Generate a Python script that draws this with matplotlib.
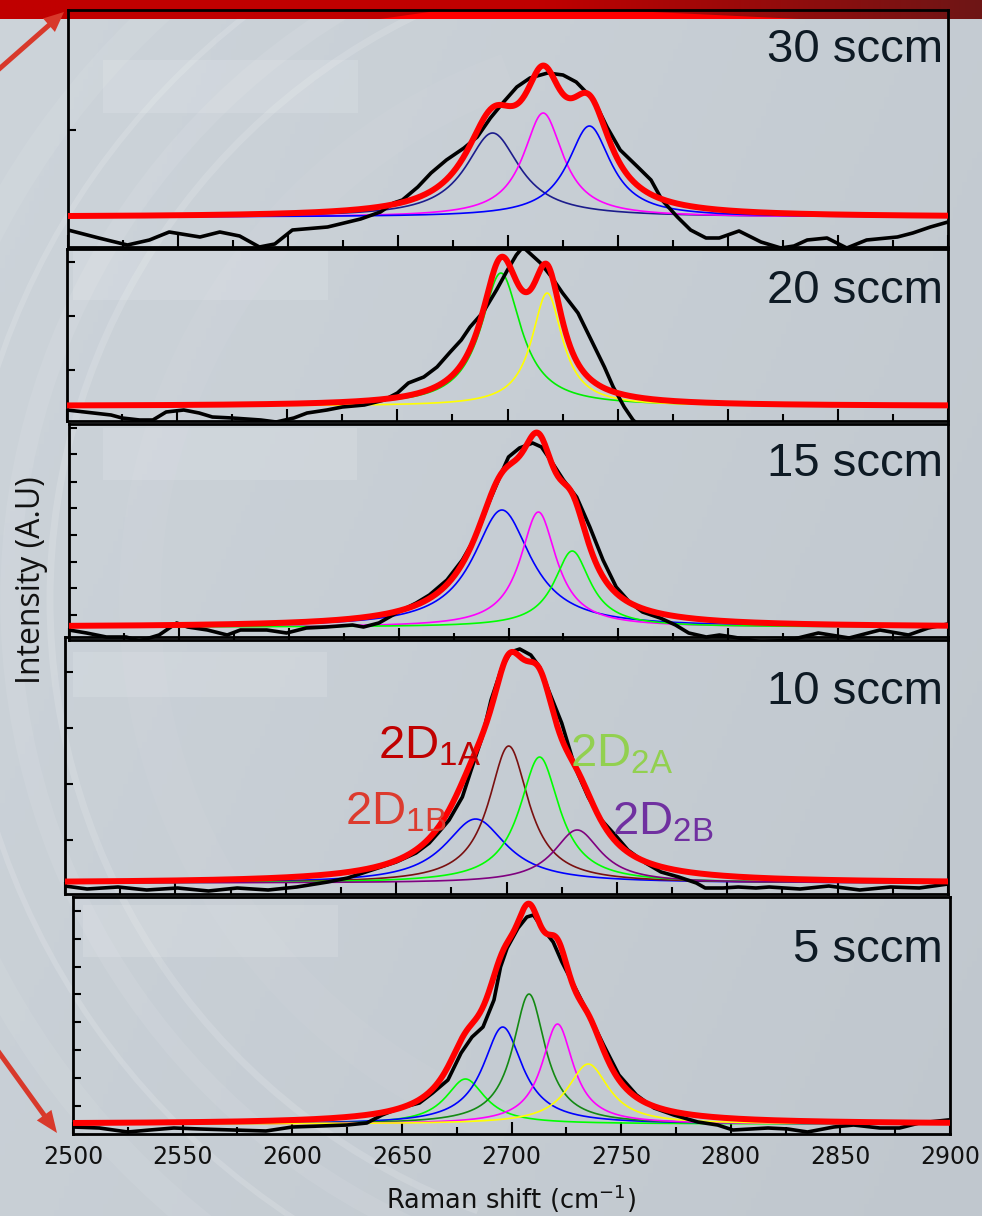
import numpy as np
import matplotlib
matplotlib.use('agg')
import matplotlib.pyplot as plt
from matplotlib.patches import Arc, Rectangle, Polygon, FancyArrow
from matplotlib.ticker import MultipleLocator

plt.rcParams['mathtext.rm'] = 'Liberation Sans'
plt.rcParams['mathtext.it'] = 'Liberation Sans:italic'
plt.rcParams['mathtext.bf'] = 'Liberation Sans:bold'

# Raman 2D band of graphene grown at different gas flows
# x = Raman shift (cm^-1), y = intensity (A.U.)
flows = ['30 sccm', '20 sccm', '15 sccm', '10 sccm', '5 sccm']

# measured spectra (black)
x30 = [2500, 2514, 2527, 2537, 2546, 2560, 2569, 2578, 2587, 2594, 2602, 2618, 2633, 2642, 2648, 2652, 2659,
       2665, 2672, 2680, 2686, 2692, 2698, 2704, 2710, 2718, 2725, 2731, 2739, 2745, 2751, 2759, 2765, 2770,
       2777, 2783, 2790, 2796, 2805, 2815, 2824, 2830, 2836, 2845, 2854, 2863, 2877, 2884, 2892, 2900]
y30 = [17, 9, 2, 7, 15, 10, 15, 11, 0, 3, 17, 20, 28, 35, 44, 47, 60, 74, 87, 99, 110, 129, 145, 160, 169,
       174, 172, 165, 147, 120, 97, 80, 67, 47, 30, 17, 9, 9, 16, 5, -1, 1, 7, 9, -1, 7, 10, 14, 20, 25]

x20 = [2500, 2512, 2520, 2525, 2533, 2539, 2545, 2553, 2560, 2566, 2575, 2588, 2595, 2603, 2609, 2618, 2625,
       2635, 2644, 2650, 2655, 2662, 2668, 2674, 2679, 2683, 2689, 2695, 2700, 2704, 2707, 2710, 2715, 2720,
       2725, 2732, 2738, 2744, 2748, 2753, 2757, 2763]
y20 = [11, 8, 6, 3, 1, 1, 9, 11, 8, 4, 3, 1, -1, 3, 8, 11, 14, 16, 21, 28, 38, 44, 54, 69, 81, 94, 109, 131,
       151, 166, 174, 168, 158, 144, 128, 108, 81, 54, 34, 14, 1, -11]

x15 = [2500, 2508, 2517, 2526, 2532, 2541, 2549, 2554, 2563, 2572, 2578, 2590, 2599, 2608, 2617, 2629, 2634,
       2641, 2649, 2658, 2664, 2672, 2679, 2685, 2691, 2696, 2700, 2705, 2711, 2715, 2720, 2725, 2731, 2737,
       2743, 2749, 2755, 2761, 2769, 2776, 2782, 2790, 2796, 2802, 2810, 2815, 2828, 2841, 2855, 2869, 2882,
       2891, 2900]
y15 = [10, 7, 3, 3, -1, 5, 17, 13, 10, 5, 10, 10, 7, 12, 13, 15, 13, 17, 27, 37, 45, 60, 80, 103, 137, 163,
       183, 192, 197, 193, 177, 160, 143, 113, 80, 53, 38, 28, 22, 15, 7, 3, 5, 3, 0, -2, 0, 7, 2, 10, 5, 12, 16]

x10 = [2500, 2510, 2524, 2537, 2551, 2565, 2578, 2592, 2605, 2619, 2628, 2639, 2650, 2659, 2665, 2669, 2674,
       2680, 2684, 2689, 2693, 2698, 2702, 2706, 2711, 2715, 2719, 2725, 2731, 2737, 2743, 2750, 2755, 2763,
       2770, 2778, 2786, 2790, 2798, 2805, 2813, 2819, 2833, 2846, 2860, 2874, 2887, 2900]
y10 = [8, 5, 7, 4, 6, 3, 6, 4, 7, 12, 16, 24, 32, 41, 51, 61, 74, 97, 124, 157, 194, 227, 242, 245, 239, 227,
       204, 171, 127, 97, 74, 57, 44, 31, 22, 17, 11, 6, 6, 7, 6, 7, 5, 8, 4, 7, 6, 10]

x5 = [2500, 2512, 2525, 2535, 2546, 2558, 2573, 2588, 2600, 2613, 2625, 2634, 2641, 2649, 2658, 2664, 2671,
      2677, 2682, 2687, 2692, 2695, 2698, 2703, 2707, 2710, 2714, 2719, 2723, 2730, 2736, 2742, 2749, 2757,
      2765, 2774, 2785, 2794, 2801, 2817, 2826, 2835, 2847, 2856, 2868, 2877, 2886, 2899]
y5 = [7, 6, 2, 4, 6, 5, 4, 3, 7, 8, 9, 11, 19, 26, 31, 41, 54, 81, 97, 107, 134, 167, 186, 206, 217, 219, 206,
      192, 172, 142, 116, 89, 59, 39, 26, 19, 12, 9, 4, 6, 5, 2, 7, 9, 6, 6, 11, 14]

# Lorentzian fit components: (centre, FWHM, height), plus constant baseline
peaks30 = [(2693, 30, 84), (2716, 22, 104), (2737, 24, 91)]
peaks20 = [(2697, 22, 133), (2718, 17, 113)]
peaks15 = [(2697, 32, 117), (2713.6, 20, 115), (2729, 20, 76)]
peaks10 = [(2686, 34, 64), (2701, 22, 137), (2715, 22, 126), (2732, 26, 53)]
peaks5 = [(2679, 22, 45), (2696, 22, 97), (2708, 18, 130), (2721, 17.5, 100), (2735, 23, 60)]
baselines = [30, 15, 13, 11, 10]

colors30 = ['#1c1c8c', '#ff00ff', '#0000ff']
colors20 = ['#00ee00', '#ffff00']
colors15 = ['#0000ff', '#ff00ff', '#00ff00']
colors10 = ['#0000ff', '#7a1010', '#00ff00', '#800080']
colors5 = ['#00ff00', '#0000ff', '#138a13', '#ff00ff', '#ffff00']

ticks30 = [117]
ticks20 = [51, 105, 159]
ticks15 = [25, 52, 78, 105, 132, 158, 186, 212]
ticks10 = [54, 110, 166, 222]
ticks5 = [28, 56, 84, 112, 140, 167, 195, 223]

W, H = 982, 1216


def lorentz(x, c, fwhm, a):
    return a / (1 + ((x - c) / (fwhm / 2.0)) ** 2)


fig = plt.figure(figsize=(W / 100, H / 100), dpi=100)

# ---- slide background ----
bg = fig.add_axes([0, 0, 1, 1], zorder=-5)
bg.set_xlim(0, W)
bg.set_ylim(H, 0)
bg.axis('off')
gx, gy = np.meshgrid(np.linspace(0, 1, 200), np.linspace(0, 1, 200))
t = (0.65 * gx + 0.35 * gy)[..., None]
c0 = np.array([205, 212, 218]) / 255.0
c1 = np.array([192, 199, 206]) / 255.0
bg.imshow(c0 * (1 - t) + c1 * t, extent=[0, W, H, 0], aspect='auto', zorder=0)
for r, lw, al in [(560, 30, 0.04), (650, 5, 0.14), (690, 14, 0.08), (740, 4, 0.15), (800, 20, 0.07)]:
    bg.add_patch(Arc((700, 600), 2 * r, 2 * r, theta1=110, theta2=250, color='white', lw=lw, alpha=al, zorder=1))
for (l, tp, r, b) in [(103, 60, 358, 113), (73, 250, 328, 300), (103, 428, 357, 480), (73, 652, 327, 697),
                      (83, 905, 338, 957)]:
    bg.add_patch(Rectangle((l, tp), r - l, b - tp, color='white', alpha=0.13, lw=0, zorder=2))

# red title bar
bx = np.linspace(0, 1, 400)
bt = np.clip((bx - 0.55) / 0.45, 0, 1)[None, :, None]
bar = np.array([192, 0, 0]) / 255.0 * (1 - bt) + np.array([110, 22, 22]) / 255.0 * bt
bg.imshow(bar, extent=[0, W, 19, 0], aspect='auto', zorder=3)
bg.add_patch(Polygon([(380, 19), (450, 9), (590, 9), (800, 19)], color='#ff0000', lw=0, zorder=4))

# arrows
bg.add_patch(FancyArrow(-10, 77, 74, -65, width=5, head_width=18, head_length=20,
                        length_includes_head=True, color='#d8392b', lw=0, zorder=5))
bg.add_patch(FancyArrow(-10, 1040, 67, 93, width=5, head_width=18, head_length=22,
                        length_includes_head=True, color='#d8392b', lw=0, zorder=5))

# ---- spectra panels ----
boxes = [(68, 10, 948, 247), (67, 249, 948, 421), (69, 424, 948, 640), (65, 637, 948, 894), (73, 897, 950, 1134)]
xs = [x30, x20, x15, x10, x5]
ys = [y30, y20, y15, y10, y5]
peaks = [peaks30, peaks20, peaks15, peaks10, peaks5]
cols = [colors30, colors20, colors15, colors10, colors5]
yt = [ticks30, ticks20, ticks15, ticks10, ticks5]
label_base = [62, 303, 476, 704, 962]

grid = np.linspace(2500, 2900, 801)
for i, (l, tp, r, b) in enumerate(boxes):
    ax = fig.add_axes([l / W, 1 - b / H, (r - l) / W, (b - tp) / H])
    ax.set_facecolor('none')
    base = baselines[i]
    total = np.full_like(grid, base, dtype=float)
    for (c, w, a), col in zip(peaks[i], cols[i]):
        comp = lorentz(grid, c, w, a)
        total += comp
        ax.plot(grid, comp + base, color=col, lw=1.2, zorder=2)
    ax.plot(xs[i], ys[i], color='black', lw=2.6, zorder=3)
    ax.plot(grid, total, color='#ff0000', lw=4.3, zorder=4, solid_capstyle='round')
    ax.set_xlim(2500, 2900)
    ax.set_ylim(0, b - tp)
    ax.xaxis.set_major_locator(MultipleLocator(50))
    ax.xaxis.set_minor_locator(MultipleLocator(25))
    ax.set_yticks(yt[i])
    ax.tick_params(axis='x', which='major', direction='in', length=8.5, width=1.5,
                   labelbottom=(i == 4), labelsize=17, pad=8, labelcolor='#111111')
    ax.tick_params(axis='x', which='minor', direction='in', length=5, width=1.5)
    ax.tick_params(axis='y', direction='in', length=5.5, width=1.5, labelleft=False)
    for sp in ax.spines.values():
        sp.set_linewidth(2)
    fig.text(943 / W, 1 - label_base[i] / H, flows[i], ha='right', va='baseline',
             fontsize=34, family='Liberation Sans', color='#0e1a24')

# peak labels on the 10 sccm panel
for txt, x, y, col in [(r'$\mathrm{2D_{1A}}$', 378, 758, '#c00000'),
                       (r'$\mathrm{2D_{1B}}$', 345, 825, '#dc3b2e'),
                       (r'$\mathrm{2D_{2A}}$', 570, 767, '#92d050'),
                       (r'$\mathrm{2D_{2B}}$', 612, 835, '#7030a0')]:
    fig.text(x / W, 1 - y / H, txt, ha='left', va='baseline', fontsize=34, color=col,
             math_fontfamily='custom')

fig.text(511 / W, 1 - 1209 / H, r'Raman shift (cm$^{-1}$)', ha='center', va='baseline',
         fontsize=18.5, color='#111111', math_fontfamily='dejavusans')
fig.text(32 / W, 1 - 580 / H, 'Intensity (A.U)', rotation=90, ha='center', va='center',
         fontsize=23, family='Open Sans', color='#111111')

fig.savefig('out.png', dpi=100)
